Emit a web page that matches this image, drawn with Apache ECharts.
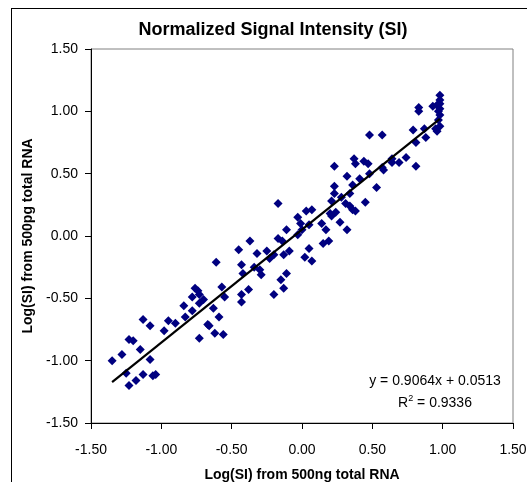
<!DOCTYPE html>
<html>
<head>
<meta charset="utf-8">
<script src="https://cdn.jsdelivr.net/npm/echarts@6/dist/echarts.min.js"></script>
<style>
  html, body { margin: 0; padding: 0; background: #fff; }
  #wrap { position: relative; width: 527px; height: 482px; overflow: hidden; }
  #frame { position: absolute; left: 11px; top: 8px; width: 600px; height: 600px; border: 1px solid #000; box-sizing: border-box; }
  #chart { position: absolute; left: 0; top: 0; width: 527px; height: 482px; }
</style>
</head>
<body>
<div id="wrap"><div id="frame"></div><div id="chart"></div></div>
<script>
// Log(SI) from 500ng total RNA
const xValues = [-1.35,-1.28,-1.25,-1.23,-1.20,-1.23,-1.18,-1.15,-1.13,-1.13,-1.08,-1.08,-1.06,-1.04,-0.98,-0.95,-0.90,-0.84,-0.83,-0.78,
  -0.78,-0.76,-0.74,-0.73,-0.73,-0.73,-0.70,-0.67,-0.66,-0.63,-0.62,-0.61,-0.59,-0.57,-0.56,-0.55,-0.45,-0.43,-0.42,-0.43,
  -0.43,-0.38,-0.37,-0.34,-0.32,-0.30,-0.29,-0.25,-0.23,-0.20,-0.20,-0.17,-0.15,-0.14,-0.13,-0.13,-0.11,-0.11,-0.09,-0.03,
  -0.01,0.02,0.05,0.05,0.07,0.14,0.15,0.17,0.19,0.27,0.32,-0.17,-0.03,0.03,0.07,0.20,0.21,0.23,0.23,0.23,
  0.28,0.32,0.31,0.34,0.34,0.36,0.38,0.36,0.37,0.38,0.41,0.44,0.45,0.47,0.48,0.48,0.53,0.57,0.57,0.58,
  0.64,0.64,0.69,0.74,0.79,0.81,0.81,0.83,0.83,0.87,0.88,0.93,0.95,0.96,0.97,0.98,0.98,0.98,0.98,0.98,
  0.97,0.96,0.98,0.00,0.21,0.24];
// Log(SI) from 500pg total RNA
const yValues = [-1.00,-0.95,-1.10,-0.83,-0.84,-1.20,-1.16,-0.91,-0.67,-1.11,-0.72,-0.99,-1.12,-1.11,-0.76,-0.68,-0.70,-0.56,-0.65,-0.49,
  -0.60,-0.42,-0.44,-0.47,-0.54,-0.82,-0.51,-0.71,-0.72,-0.58,-0.78,-0.21,-0.65,-0.41,-0.79,-0.49,-0.11,-0.23,-0.30,-0.47,
  -0.53,-0.43,-0.04,-0.25,-0.14,-0.27,-0.31,-0.12,-0.18,-0.15,-0.47,-0.02,-0.35,-0.04,-0.42,-0.15,-0.30,0.05,-0.12,0.01,
  0.10,-0.17,-0.10,0.09,-0.20,0.10,-0.06,0.05,-0.04,0.11,0.05,0.26,0.15,0.20,0.21,0.18,0.28,0.34,0.56,0.40,
  0.31,0.48,0.26,0.24,0.34,0.21,0.20,0.41,0.62,0.58,0.46,0.60,0.27,0.58,0.50,0.81,0.39,0.81,0.55,0.53,
  0.62,0.59,0.59,0.63,0.85,0.75,0.56,1.03,1.00,0.86,0.79,1.04,0.86,0.84,1.00,1.13,1.09,1.06,1.02,0.97,
  0.93,1.05,0.88,0.05,0.16,0.19];
// Trendline as printed on the chart
const slope = 0.9064;
const intercept = 0.0513;
const rSquared = '0.9336';
const axisTicks = [-1.5, -1.0, -0.5, 0.0, 0.5, 1.0, 1.5];

const points = xValues.map((x, i) => [x, yValues[i]]);
const xMin = Math.min(...xValues), xMax = Math.max(...xValues);
const trend = [[xMin, slope * xMin + intercept], [xMax, slope * xMax + intercept]];

const FONT = "'Liberation Sans', Arial, sans-serif";
const chart = echarts.init(document.getElementById('chart'), null, { renderer: 'canvas' });
const axisCommon = {
  type: 'value',
  min: axisTicks[0],
  max: axisTicks[axisTicks.length - 1],
  interval: 0.5,
  splitLine: { show: false },
  axisLine: { show: true, onZero: false, lineStyle: { color: '#000', width: 1 } },
  axisTick: { show: true, inside: false, length: 6, lineStyle: { color: '#000' } },
  axisLabel: { color: '#000', fontSize: 14, fontFamily: FONT, formatter: v => v.toFixed(2) },
  nameLocation: 'middle',
  nameTextStyle: { color: '#000', fontSize: 14, fontWeight: 'bold', fontFamily: FONT }
};
chart.setOption({
  animation: false,
  backgroundColor: 'transparent',
  title: {
    text: 'Normalized Signal Intensity (SI)',
    left: 268, top: 16, textAlign: 'center',
    textStyle: { color: '#000', fontSize: 18, fontWeight: 'bold', fontFamily: FONT }
  },
  grid: {
    left: 91, right: 14, top: 49, bottom: 59,
    containLabel: false, outerBoundsMode: 'none',
    show: true, borderColor: '#808080', borderWidth: 1, backgroundColor: '#fff'
  },
  xAxis: Object.assign({}, axisCommon, {
    name: 'Log(SI) from 500ng total RNA', nameGap: 45,
    axisLabel: Object.assign({}, axisCommon.axisLabel, { margin: 20 })
  }),
  yAxis: Object.assign({}, axisCommon, {
    name: 'Log(SI) from 500pg total RNA', nameGap: 56,
    axisLabel: Object.assign({}, axisCommon.axisLabel, { margin: 13 })
  }),
  graphic: [{
    type: 'text', x: 435, y: 381,
    style: { text: 'y = 0.9064x + 0.0513', align: 'center', verticalAlign: 'middle', fill: '#000', font: '14px ' + FONT }
  }, {
    type: 'text', x: 435, y: 403,
    style: {
      text: 'R{sup|2} = ' + rSquared, align: 'center', verticalAlign: 'middle', fill: '#000', font: '14px ' + FONT,
      rich: { sup: { fontSize: 9, verticalAlign: 'top', padding: [0, 0, 8, 0], fontFamily: FONT } }
    }
  }],
  series: [{
    type: 'scatter',
    data: points,
    symbol: 'diamond',
    symbolSize: 9,
    itemStyle: { color: '#000080', opacity: 1 },
    z: 2
  }, {
    type: 'line',
    data: trend,
    symbol: 'none',
    lineStyle: { color: '#000', width: 2.2 },
    z: 3
  }]
});
</script>
</body>
</html>
